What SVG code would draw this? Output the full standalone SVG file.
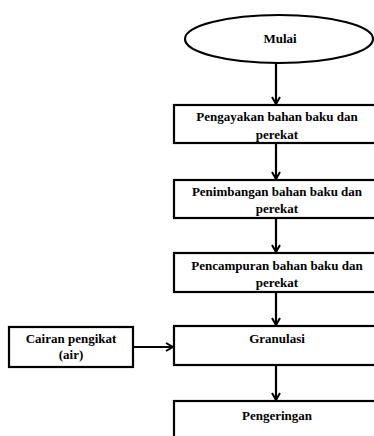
<svg xmlns="http://www.w3.org/2000/svg" width="374" height="436" viewBox="0 0 374 436">
<defs>
<marker id="ah" markerWidth="10" markerHeight="10" refX="8" refY="5" orient="auto" markerUnits="userSpaceOnUse">
<path d="M1,1 L8,5 L1,9" fill="none" stroke="#000" stroke-width="2"/>
</marker>
<style>
.box{fill:#fff;stroke:#000;stroke-width:2.2}
.t{font-family:'Liberation Serif','DejaVu Serif',serif;font-weight:700;font-size:13px;text-anchor:middle;fill:#000}
.c{stroke:#000;stroke-width:2.2;fill:none;marker-end:url(#ah)}
</style>
</defs>
<rect width="374" height="436" fill="#fff"/>
<g id="mulai">
<ellipse class="box" cx="279" cy="39" rx="94" ry="24"/>
<text class="t" x="280" y="43">Mulai</text>
</g>
<g id="pengayakan">
<rect class="box" x="174" y="105" width="210" height="38"/>
<text class="t" x="277" y="121">Pengayakan bahan baku dan</text>
<text class="t" x="277" y="139">perekat</text>
</g>
<g id="penimbangan">
<rect class="box" x="174" y="180" width="210" height="38"/>
<text class="t" x="277" y="196">Penimbangan bahan baku dan</text>
<text class="t" x="277" y="213">perekat</text>
</g>
<g id="pencampuran">
<rect class="box" x="174" y="253" width="210" height="39"/>
<text class="t" x="277" y="270">Pencampuran bahan baku dan</text>
<text class="t" x="277" y="287">perekat</text>
</g>
<g id="granulasi">
<rect class="box" x="174" y="326" width="210" height="39"/>
<text class="t" x="277" y="343">Granulasi</text>
</g>
<g id="pengeringan">
<rect class="box" x="174" y="401" width="210" height="50"/>
<text class="t" x="277" y="420">Pengeringan</text>
</g>
<g id="cairan">
<rect class="box" x="9" y="327" width="124" height="40"/>
<text class="t" x="71" y="343">Cairan pengikat</text>
<text class="t" x="71" y="359">(air)</text>
</g>
<g id="connectors">
<line class="c" x1="276" y1="63" x2="276" y2="104"/>
<line class="c" x1="276" y1="143" x2="276" y2="179"/>
<line class="c" x1="276" y1="218" x2="276" y2="252"/>
<line class="c" x1="276" y1="292" x2="276" y2="325"/>
<line class="c" x1="276" y1="365" x2="276" y2="400"/>
<line class="c" x1="133" y1="347" x2="173" y2="347"/>
</g>
</svg>
